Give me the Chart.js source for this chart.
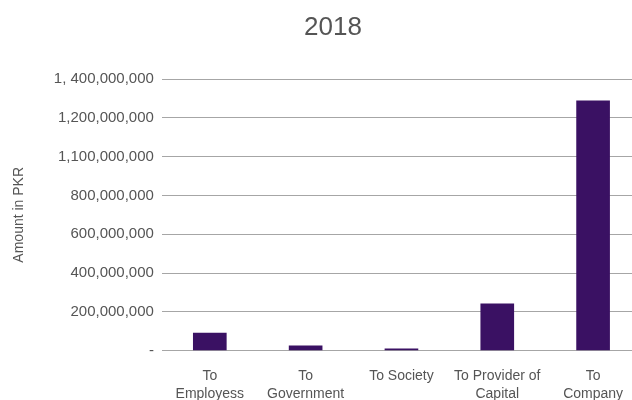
<!DOCTYPE html>
<html>
<head>
<meta charset="utf-8">
<script src="https://cdn.jsdelivr.net/npm/chart.js@4/dist/chart.umd.min.js"></script>
<style>
  html, body { margin: 0; padding: 0; background: #fff; overflow: hidden; }
  #wrap { position: relative; width: 641px; height: 400px; overflow: hidden; }
  #title { position: absolute; top: 11px; left: 0; width: 666px; text-align: center;
    font-family: "Liberation Sans", Arial, sans-serif; font-size: 26px; color: #555; }
</style>
</head>
<body>
<div id="wrap">
  <div id="title">2018</div>
  <canvas id="chart" width="641" height="411"></canvas>
</div>
<script>
const categories = [
  ["To", "Employess"],
  ["To", "Government"],
  ["To Society"],
  ["To Provider of", "Capital"],
  ["To", "Company"],
];
const amounts = [90000000, 24000000, 9000000, 241000000, 1288000000];
const yTickLabels = [
  "-",
  "200,000,000",
  "400,000,000",
  "600,000,000",
  "800,000,000",
  "1,100,000,000",
  "1,200,000,000",
  "1, 400,000,000",
];

const ctx = document.getElementById("chart").getContext("2d");
const font = "'Liberation Sans', Arial, sans-serif";

new Chart(ctx, {
  type: "bar",
  data: {
    labels: categories,
    datasets: [
      {
        label: "2018",
        data: amounts,
        backgroundColor: "#3a1163",
        barThickness: 33,
      },
    ],
  },
  options: {
    responsive: false,
    animation: false,
    layout: { padding: { top: 79, left: 11, right: 0, bottom: 0 } },
    plugins: {
      legend: { display: false },
      tooltip: { enabled: false },
    },
    scales: {
      x: {
        grid: { display: false },
        border: { display: false },
        ticks: { color: "#555", font: { family: font, size: 14, lineHeight: 1.3 }, padding: 8, maxRotation: 0 },
      },
      y: {
        min: 0,
        max: 1400000000,
        grid: { color: "#a6a6a6", drawTicks: false, lineWidth: 1 },
        border: { display: false },
        ticks: {
          stepSize: 200000000,
          color: "#555",
          font: { family: font, size: 15 },
          padding: 8,
          callback: (value, index) => yTickLabels[index],
        },
        title: {
          display: true,
          text: "Amount in PKR",
          color: "#555",
          font: { family: font, size: 14 },
          padding: { top: 0, bottom: 18 },
        },
      },
    },
  },
});
</script>
</body>
</html>
